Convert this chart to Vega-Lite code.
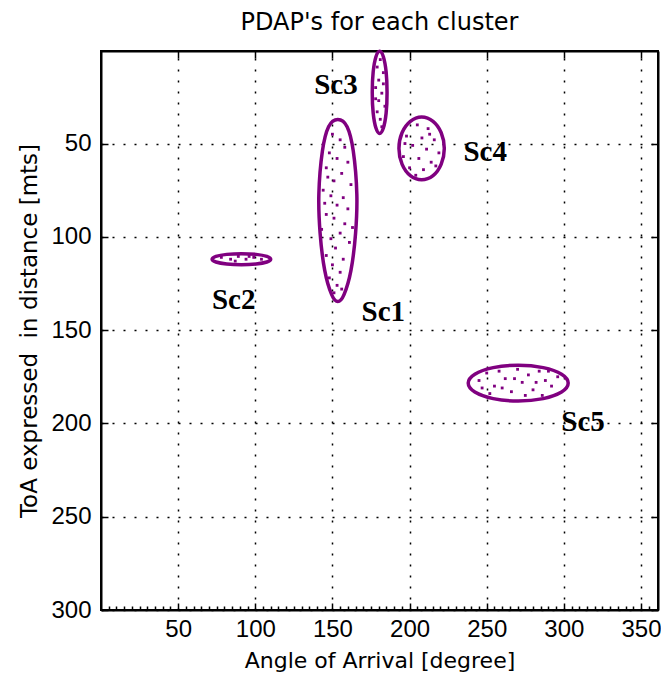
{
  "$schema": "https://vega.github.io/schema/vega-lite/v6.json",
  "autosize": "none",
  "width": 557,
  "height": 559,
  "padding": {"left": 101, "top": 51, "right": 3, "bottom": 80},
  "background": "white",
  "title": {"text": "PDAP's for each cluster", "font": "DejaVu Sans", "fontSize": 24, "fontWeight": "normal", "color": "black", "anchor": "middle", "offset": 9},
  "config": {
    "view": {"stroke": "black", "strokeWidth": 2},
    "axis": {"labelFont": "Liberation Sans", "labelFontSize": 24, "labelColor": "black", "titleFont": "DejaVu Sans", "titleFontSize": 22, "titleFontWeight": "normal", "titleColor": "black", "domainColor": "black", "domainWidth": 2, "tickColor": "black", "tickWidth": 1.5, "gridColor": "black", "gridDash": [2, 9], "gridWidth": 1.5, "gridOpacity": 1}
  },
  "datasets": {
    "ell": [
      {"c": "Sc1", "i": 0, "x": 153.5, "y": 37.1}, {"c": "Sc1", "i": 1, "x": 159.5, "y": 41}, {"c": "Sc1", "i": 2, "x": 163.5, "y": 54}, {"c": "Sc1", "i": 3, "x": 165.8, "y": 77}, {"c": "Sc1", "i": 4, "x": 165, "y": 98}, {"c": "Sc1", "i": 5, "x": 162, "y": 118}, {"c": "Sc1", "i": 6, "x": 157.5, "y": 131}, {"c": "Sc1", "i": 7, "x": 153.5, "y": 134.7}, {"c": "Sc1", "i": 8, "x": 149.5, "y": 131}, {"c": "Sc1", "i": 9, "x": 145, "y": 118}, {"c": "Sc1", "i": 10, "x": 142, "y": 98}, {"c": "Sc1", "i": 11, "x": 141.2, "y": 77}, {"c": "Sc1", "i": 12, "x": 143.5, "y": 54}, {"c": "Sc1", "i": 13, "x": 147.5, "y": 41},
      {"c": "Sc2", "i": 0, "x": 110, "y": 112}, {"c": "Sc2", "i": 1, "x": 107.5, "y": 113.5}, {"c": "Sc2", "i": 2, "x": 100.5, "y": 114.6}, {"c": "Sc2", "i": 3, "x": 91, "y": 115}, {"c": "Sc2", "i": 4, "x": 81.5, "y": 114.6}, {"c": "Sc2", "i": 5, "x": 74.5, "y": 113.5}, {"c": "Sc2", "i": 6, "x": 72, "y": 112}, {"c": "Sc2", "i": 7, "x": 74.5, "y": 110.5}, {"c": "Sc2", "i": 8, "x": 81.5, "y": 109.4}, {"c": "Sc2", "i": 9, "x": 91, "y": 109}, {"c": "Sc2", "i": 10, "x": 100.5, "y": 109.4}, {"c": "Sc2", "i": 11, "x": 107.5, "y": 110.5},
      {"c": "Sc3", "i": 0, "x": 185.4, "y": 22.6}, {"c": "Sc3", "i": 1, "x": 184.8, "y": 33.6}, {"c": "Sc3", "i": 2, "x": 183, "y": 41.7}, {"c": "Sc3", "i": 3, "x": 180.6, "y": 44.6}, {"c": "Sc3", "i": 4, "x": 178.2, "y": 41.7}, {"c": "Sc3", "i": 5, "x": 176.4, "y": 33.6}, {"c": "Sc3", "i": 6, "x": 175.8, "y": 22.6}, {"c": "Sc3", "i": 7, "x": 176.4, "y": 11.6}, {"c": "Sc3", "i": 8, "x": 178.2, "y": 3.5}, {"c": "Sc3", "i": 9, "x": 180.6, "y": 0.6}, {"c": "Sc3", "i": 10, "x": 183, "y": 3.5}, {"c": "Sc3", "i": 11, "x": 184.8, "y": 11.6},
      {"c": "Sc4", "i": 0, "x": 222.5, "y": 52.6}, {"c": "Sc4", "i": 1, "x": 220.5, "y": 61}, {"c": "Sc4", "i": 2, "x": 215.2, "y": 67.2}, {"c": "Sc4", "i": 3, "x": 207.8, "y": 69.4}, {"c": "Sc4", "i": 4, "x": 200.5, "y": 67.2}, {"c": "Sc4", "i": 5, "x": 195.1, "y": 61}, {"c": "Sc4", "i": 6, "x": 193.1, "y": 52.6}, {"c": "Sc4", "i": 7, "x": 195.1, "y": 44.2}, {"c": "Sc4", "i": 8, "x": 200.5, "y": 38.1}, {"c": "Sc4", "i": 9, "x": 207.8, "y": 35.8}, {"c": "Sc4", "i": 10, "x": 215.2, "y": 38.1}, {"c": "Sc4", "i": 11, "x": 220.5, "y": 44.2},
      {"c": "Sc5", "i": 0, "x": 302.8, "y": 178.4}, {"c": "Sc5", "i": 1, "x": 298.5, "y": 183.2}, {"c": "Sc5", "i": 2, "x": 286.6, "y": 186.7}, {"c": "Sc5", "i": 3, "x": 270.4, "y": 188}, {"c": "Sc5", "i": 4, "x": 254.2, "y": 186.7}, {"c": "Sc5", "i": 5, "x": 242.3, "y": 183.2}, {"c": "Sc5", "i": 6, "x": 238, "y": 178.4}, {"c": "Sc5", "i": 7, "x": 242.3, "y": 173.6}, {"c": "Sc5", "i": 8, "x": 254.2, "y": 170.1}, {"c": "Sc5", "i": 9, "x": 270.4, "y": 168.8}, {"c": "Sc5", "i": 10, "x": 286.6, "y": 170.1}, {"c": "Sc5", "i": 11, "x": 298.5, "y": 173.6}
    ],
    "dots": [
      {"x": 150, "y": 45}, {"x": 155, "y": 48}, {"x": 158, "y": 52}, {"x": 148, "y": 55}, {"x": 153, "y": 58}, {"x": 160, "y": 60}, {"x": 146, "y": 63}, {"x": 156, "y": 66}, {"x": 151, "y": 70}, {"x": 162, "y": 72}, {"x": 144, "y": 75}, {"x": 149, "y": 78}, {"x": 157, "y": 79}, {"x": 153, "y": 83}, {"x": 160, "y": 85}, {"x": 146, "y": 88}, {"x": 151, "y": 90}, {"x": 158, "y": 93}, {"x": 143, "y": 96}, {"x": 155, "y": 98}, {"x": 149, "y": 101}, {"x": 161, "y": 103}, {"x": 152, "y": 106}, {"x": 146, "y": 110}, {"x": 157, "y": 112}, {"x": 150, "y": 115}, {"x": 155, "y": 119}, {"x": 148, "y": 122}, {"x": 153, "y": 126}, {"x": 151, "y": 130}, {"x": 156, "y": 128}, {"x": 145, "y": 82}, {"x": 163, "y": 95}, {"x": 147, "y": 68},
      {"x": 181, "y": 5}, {"x": 179, "y": 9}, {"x": 183, "y": 12}, {"x": 180, "y": 16}, {"x": 178, "y": 20}, {"x": 182, "y": 23}, {"x": 180, "y": 27}, {"x": 184, "y": 30}, {"x": 179, "y": 33}, {"x": 181, "y": 37}, {"x": 182, "y": 41}, {"x": 178, "y": 26}, {"x": 183, "y": 18},
      {"x": 205, "y": 40}, {"x": 212, "y": 42}, {"x": 198, "y": 46}, {"x": 208, "y": 47}, {"x": 216, "y": 48}, {"x": 202, "y": 51}, {"x": 211, "y": 53}, {"x": 219, "y": 55}, {"x": 196, "y": 57}, {"x": 206, "y": 58}, {"x": 214, "y": 60}, {"x": 200, "y": 63}, {"x": 209, "y": 64}, {"x": 204, "y": 67}, {"x": 217, "y": 62}, {"x": 197, "y": 50}, {"x": 213, "y": 45},
      {"x": 78, "y": 111}, {"x": 84, "y": 112}, {"x": 89, "y": 110.5}, {"x": 94, "y": 112}, {"x": 99, "y": 111}, {"x": 104, "y": 112}, {"x": 87, "y": 113}, {"x": 96, "y": 110.5},
      {"x": 245, "y": 177}, {"x": 250, "y": 173}, {"x": 255, "y": 180}, {"x": 258, "y": 172}, {"x": 262, "y": 176}, {"x": 266, "y": 183}, {"x": 270, "y": 171}, {"x": 273, "y": 178}, {"x": 277, "y": 174}, {"x": 280, "y": 182}, {"x": 284, "y": 172}, {"x": 288, "y": 177}, {"x": 292, "y": 180}, {"x": 296, "y": 175}, {"x": 252, "y": 184}, {"x": 268, "y": 176}, {"x": 275, "y": 185}, {"x": 286, "y": 185}, {"x": 260, "y": 181}, {"x": 282, "y": 178}, {"x": 290, "y": 172}, {"x": 247, "y": 181}
    ],
    "labels": [
      {"t": "Sc1", "x": 183, "y": 140.5},
      {"t": "Sc2", "x": 86, "y": 134},
      {"t": "Sc3", "x": 152.3, "y": 18.5},
      {"t": "Sc4", "x": 249, "y": 54.5},
      {"t": "Sc5", "x": 312.4, "y": 199.5}
    ]
  },
  "layer": [
    {
      "data": {"name": "ell"},
      "mark": {"type": "line", "interpolate": "cardinal-closed", "color": "#800080", "strokeWidth": 3.5},
      "encoding": {
        "x": {"field": "x", "type": "quantitative", "scale": {"domain": [0, 361], "nice": false, "zero": false},
          "axis": {"orient": "bottom", "title": "Angle of Arrival [degree]", "values": [5,10,15,20,25,30,35,40,45,50,55,60,65,70,75,80,85,90,95,100,105,110,115,120,125,130,135,140,145,150,155,160,165,170,175,180,185,190,195,200,205,210,215,220,225,230,235,240,245,250,255,260,265,270,275,280,285,290,295,300,305,310,315,320,325,330,335,340,345,350,355],
            "labelExpr": "datum.value % 50 === 0 ? datum.label : ''", "labelOverlap": false, "labelFlush": false,
            "gridOpacity": {"condition": {"test": "datum.value % 50 === 0", "value": 1}, "value": 0},
            "tickSize": {"condition": {"test": "datum.value % 50 === 0", "value": -7}, "value": -4},
            "labelPadding": 14, "titlePadding": 6}},
        "y": {"field": "y", "type": "quantitative", "scale": {"domain": [0.4, 300], "nice": false, "zero": false, "reverse": true},
          "axis": {"orient": "left", "title": "ToA expressed\u00a0 in distance [mts]", "titleFontSize": 23, "values": [50, 100, 150, 200, 250, 300], "tickSize": -7, "labelPadding": 17, "titlePadding": 9}},
        "detail": {"field": "c"},
        "order": {"field": "i", "type": "quantitative"}
      }
    },
    {
      "data": {"name": "dots"},
      "mark": {"type": "point", "shape": "square", "filled": true, "size": 8, "color": "#800080", "opacity": 1},
      "encoding": {
        "x": {"field": "x", "type": "quantitative", "axis": {"orient": "top", "title": null, "values": [50, 100, 150, 200, 250, 300, 350], "labels": false, "grid": false, "tickSize": -7}},
        "y": {"field": "y", "type": "quantitative", "axis": {"orient": "right", "title": null, "values": [50, 100, 150, 200, 250, 300], "labels": false, "grid": false, "tickSize": -7}}
      }
    },
    {
      "data": {"name": "labels"},
      "mark": {"type": "text", "font": "Liberation Serif", "fontWeight": "bold", "fontSize": 29, "color": "black", "align": "center", "baseline": "middle"},
      "encoding": {
        "x": {"field": "x", "type": "quantitative", "axis": null},
        "y": {"field": "y", "type": "quantitative", "axis": null},
        "text": {"field": "t"}
      }
    }
  ],
  "resolve": {"axis": {"x": "independent", "y": "independent"}}
}
